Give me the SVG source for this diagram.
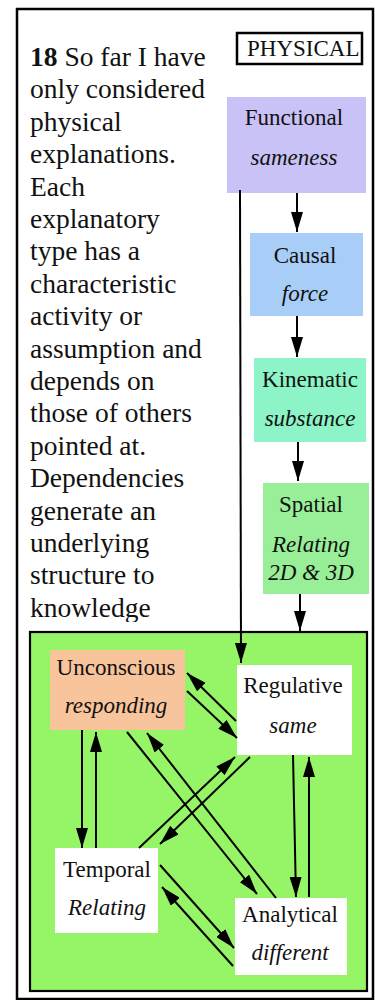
<svg xmlns="http://www.w3.org/2000/svg" width="375" height="1000" viewBox="0 0 375 1000">
<style>
text{font-family:"Liberation Serif",Tinos,"Times New Roman",Times,"DejaVu Serif",serif}
.body{font-size:27.5px;fill:#111}
.lbl{font-size:23px;fill:#111;text-anchor:middle}
.it{font-style:italic}
.edge{stroke:#000;stroke-width:2;fill:none;marker-end:url(#ah)}
</style>
<defs>
<marker id="ah" viewBox="0 0 20 12" markerWidth="20" markerHeight="12" refX="20" refY="6" orient="auto" markerUnits="userSpaceOnUse">
<path d="M0,0 L20,6 L0,12 z" fill="#000"/>
</marker>
<clipPath id="tc"><rect x="0" y="0" width="236" height="622"/></clipPath>
</defs>
<rect x="0" y="0" width="375" height="1000" fill="#fff"/>
<rect id="frame" x="17" y="9" width="356" height="990" fill="none" stroke="#000" stroke-width="2.5"/>

<g id="paragraph" class="body" clip-path="url(#tc)">
<text x="30" y="66" font-family="Liberation Serif, serif"><tspan font-weight="bold">18</tspan> So far I have</text>
<text x="30" y="98.4">only considered</text>
<text x="30" y="130.8">physical</text>
<text x="30" y="163.2">explanations.</text>
<text x="30" y="195.6">Each</text>
<text x="30" y="228">explanatory</text>
<text x="30" y="260.4">type has a</text>
<text x="30" y="292.8">characteristic</text>
<text x="30" y="325.2">activity or</text>
<text x="30" y="357.6">assumption and</text>
<text x="30" y="390">depends on</text>
<text x="30" y="422.4">those of others</text>
<text x="30" y="454.8">pointed at.</text>
<text x="30" y="487.2">Dependencies</text>
<text x="30" y="519.6">generate an</text>
<text x="30" y="552">underlying</text>
<text x="30" y="584.4">structure to</text>
<text x="30" y="616.8">knowledge</text>
</g>

<g id="physical">
<rect x="237" y="33" width="125" height="31" fill="#fff" stroke="#000" stroke-width="2.5"/>
<text x="247" y="56" class="lbl" style="text-anchor:start">PHYSICAL</text>
</g>

<g id="mental-container">
<rect x="30" y="632" width="337" height="359" fill="#95f566" stroke="#000" stroke-width="2.2"/>
</g>

<g id="functional">
<rect x="227" y="97" width="139" height="96" fill="#c8c2f7"/>
<text x="294" y="125" class="lbl">Functional</text>
<text x="294" y="165" class="lbl it">sameness</text>
</g>
<g id="causal">
<rect x="250" y="233" width="113" height="83" fill="#a8cdf6"/>
<text x="305" y="263" class="lbl">Causal</text>
<text x="305" y="301" class="lbl it">force</text>
</g>
<g id="kinematic">
<rect x="254" y="358" width="112" height="84" fill="#8cf4c6"/>
<text x="310" y="387" class="lbl">Kinematic</text>
<text x="310" y="426" class="lbl it">substance</text>
</g>
<g id="spatial">
<rect x="263" y="483" width="106" height="111" fill="#98ef98"/>
<text x="311" y="512" class="lbl">Spatial</text>
<text x="311" y="552" class="lbl it">Relating</text>
<text x="311" y="580" class="lbl it">2D &amp; 3D</text>
</g>

<g id="unconscious">
<rect x="50" y="650" width="135" height="80" fill="#f8c49c"/>
<text x="116" y="675" class="lbl">Unconscious</text>
<text x="116" y="713" class="lbl it">responding</text>
</g>
<g id="regulative">
<rect x="237" y="665" width="115" height="90" fill="#fff"/>
<text x="293" y="693" class="lbl">Regulative</text>
<text x="293" y="733" class="lbl it">same</text>
</g>
<g id="temporal">
<rect x="55" y="848" width="103" height="85" fill="#fff"/>
<text x="107" y="877" class="lbl">Temporal</text>
<text x="107" y="915" class="lbl it">Relating</text>
</g>
<g id="analytical">
<rect x="235" y="898" width="112" height="77" fill="#fff"/>
<text x="290" y="922" class="lbl">Analytical</text>
<text x="290" y="960" class="lbl it">different</text>
</g>

<g id="connectors">
<line class="edge" x1="297" y1="193" x2="297" y2="232"/>
<line class="edge" x1="297" y1="316" x2="297" y2="357"/>
<line class="edge" x1="298" y1="442" x2="298" y2="481"/>
<line class="edge" x1="300" y1="594" x2="300" y2="631"/>
<line class="edge" x1="240" y1="190" x2="241" y2="663"/>
<line class="edge" x1="236" y1="721" x2="187" y2="673"/>
<line class="edge" x1="187" y1="691" x2="237" y2="738"/>
<line class="edge" x1="82" y1="730" x2="82" y2="848"/>
<line class="edge" x1="96" y1="848" x2="96" y2="732"/>
<line class="edge" x1="127" y1="732" x2="257" y2="894"/>
<line class="edge" x1="276" y1="898" x2="147" y2="733"/>
<line class="edge" x1="139" y1="848" x2="235" y2="757"/>
<line class="edge" x1="250" y1="757" x2="160" y2="844"/>
<line class="edge" x1="293" y1="755" x2="296" y2="897"/>
<line class="edge" x1="309" y1="897" x2="309" y2="757"/>
<line class="edge" x1="160" y1="865" x2="234" y2="948"/>
<line class="edge" x1="233" y1="966" x2="162" y2="887"/>
</g>
</svg>
